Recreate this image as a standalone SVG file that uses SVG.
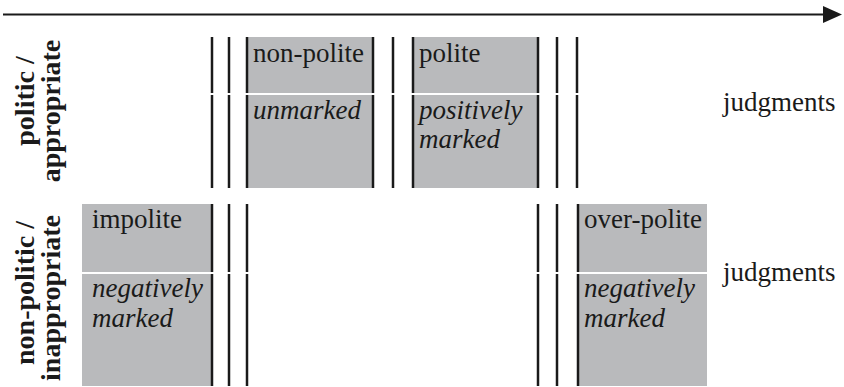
<svg xmlns="http://www.w3.org/2000/svg" width="844" height="387" viewBox="0 0 844 387">
<defs>
<style>
.box{fill:#b9babc;}
.vl{stroke:#1a1a1a;stroke-width:2.5;fill:none;}
.div{fill:#ffffff;}
</style>
</defs>
<rect width="844" height="387" fill="#ffffff"/>
<g id="connectors">
<line x1="3" y1="14.5" x2="824" y2="14.5" stroke="#1a1a1a" stroke-width="2"/>
<path d="M823,6 L842,14.5 L823,23 Z" fill="#1a1a1a"/>
</g>
<g font-family="Liberation Serif" font-size="27" fill="#1a1a1a">
<g id="label-politic" font-weight="bold" text-anchor="middle" font-size="28">
<text transform="translate(34,101) rotate(-90)">politic /</text>
<text transform="translate(60,111) rotate(-90)">appropriate</text>
</g>
<g id="label-nonpolitic" font-weight="bold" text-anchor="middle" font-size="28">
<text transform="translate(34,293) rotate(-90)">non-politic /</text>
<text transform="translate(60,298) rotate(-90)">inappropriate</text>
</g>
<g id="node-nonpolite">
<rect class="box" x="247" y="37" width="126" height="151"/>
<line class="vl" x1="247" y1="37" x2="247" y2="188"/>
<line class="vl" x1="373" y1="37" x2="373" y2="188"/>
<text x="253" y="62">non-polite</text>
<text font-style="italic" x="253" y="119">unmarked</text>
</g>
<g id="node-polite">
<rect class="box" x="413" y="37" width="125" height="151"/>
<line class="vl" x1="413" y1="37" x2="413" y2="188"/>
<line class="vl" x1="538" y1="37" x2="538" y2="188"/>
<text x="419" y="62">polite</text>
<text font-style="italic" x="419" y="119">positively</text>
<text font-style="italic" x="419" y="148">marked</text>
</g>
<g id="node-impolite">
<rect class="box" x="82" y="204" width="130" height="182"/>
<line class="vl" x1="212" y1="204" x2="212" y2="386"/>
<text x="92" y="228">impolite</text>
<text font-style="italic" x="92" y="297">negatively</text>
<text font-style="italic" x="92" y="327">marked</text>
</g>
<g id="node-overpolite">
<rect class="box" x="578" y="204" width="129" height="182"/>
<line class="vl" x1="578" y1="204" x2="578" y2="386"/>
<text x="584" y="228">over-polite</text>
<text font-style="italic" x="584" y="297">negatively</text>
<text font-style="italic" x="584" y="327">marked</text>
</g>
</g>
<g id="separators">
<line class="vl" x1="212" y1="37" x2="212" y2="188"/>
<line class="vl" x1="229" y1="37" x2="229" y2="188"/>
<line class="vl" x1="393" y1="37" x2="393" y2="188"/>
<line class="vl" x1="557" y1="37" x2="557" y2="188"/>
<line class="vl" x1="577" y1="37" x2="577" y2="188"/>
<line class="vl" x1="229" y1="204" x2="229" y2="386"/>
<line class="vl" x1="247" y1="204" x2="247" y2="386"/>
<line class="vl" x1="538" y1="204" x2="538" y2="386"/>
<line class="vl" x1="557" y1="204" x2="557" y2="386"/>
</g>
<g id="dividers">
<rect class="div" x="205" y="93" width="380" height="2"/>
<rect class="div" x="78" y="272" width="635" height="2"/>
</g>
<g font-family="Liberation Serif" font-size="27" fill="#1a1a1a">
<g id="node-judgments-top">
<text x="723" y="111">judgments</text>
</g>
<g id="node-judgments-bottom">
<text x="723" y="281">judgments</text>
</g>
</g>
</svg>
